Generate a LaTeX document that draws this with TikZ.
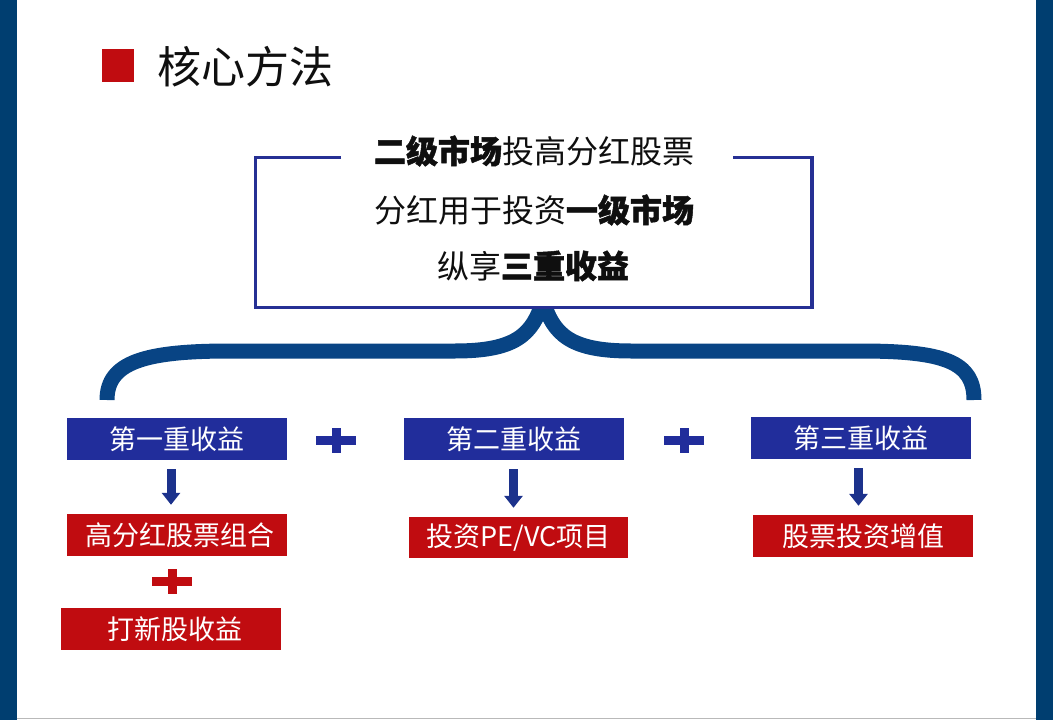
\documentclass[tikz,border=0pt]{standalone}
\usepackage{fontspec}
\setmainfont{Noto Sans CJK SC}[BoldFeatures={FakeBold=1.6}]
\usetikzlibrary{arrows.meta}
\definecolor{sidebar}{RGB}{0,62,112}
\definecolor{bracecol}{RGB}{8,68,132}
\definecolor{boxblue}{RGB}{33,45,155}
\definecolor{framecol}{RGB}{38,48,148}
\definecolor{redbox}{RGB}{192,12,16}
\definecolor{arrowcol}{RGB}{28,50,140}
\definecolor{txt}{RGB}{15,15,15}
\begin{document}
\begin{tikzpicture}[x=1pt,y=-1pt,
  bluebox/.style={fill=boxblue, text=white, minimum width=220pt, minimum height=42pt, inner sep=0pt, font=\fontsize{27}{30}\selectfont},
  redlabel/.style={fill=redbox, text=white, minimum width=220pt, minimum height=42pt, inner sep=0pt, font=\fontsize{27}{30}\selectfont},
  fatarrow/.style={draw=arrowcol, line width=9pt, -{Triangle[width=18pt,length=12pt]}},
  linetext/.style={text=txt, font=\fontsize{32}{36}\selectfont, inner sep=0pt},
  plussign/.pic={\fill (-20,-4.5) rectangle (20,4.5); \fill (-4.5,-12.5) rectangle (4.5,12.5);},
]
\useasboundingbox (0,0) rectangle (1053,720);
% side bars and bottom line
\fill[sidebar] (0,0) rectangle (16.5,720);
\fill[sidebar] (1036,0) rectangle (1053,720);
\draw[gray!55, line width=1.5pt] (16.5,718.5) -- (1036,718.5);
% title
\node[fill=redbox, minimum width=32pt, minimum height=33pt, inner sep=0pt] (sq) at (118,65.5) {};
\node[anchor=west, font=\fontsize{44}{48}\selectfont, text=txt, inner sep=0pt] (title) at (157,67) {核心方法};
% brace
\begin{scope}
\clip (0,309) rectangle (1053,720);
\draw[bracecol, line width=15pt, line join=miter]
  (107,400) .. controls (107,362) and (145,351) .. (230,351) -- (455,351)
  .. controls (515,351) and (533,335) .. (543,300)
  .. controls (553,335) and (571,351) .. (631,351) -- (860,351)
  .. controls (945,351) and (974,362) .. (974,400);
\end{scope}
% frame
\draw[framecol, line width=3.5pt] (341,157.5) -- (255.5,157.5) -- (255.5,307.5) -- (812,307.5) -- (812,157.5) -- (733,157.5);
\node[linetext] (l1) at (534,151) {{\bfseries 二级市场}投高分红股票};
\node[linetext] (l2) at (534,210) {分红用于投资{\bfseries 一级市场}};
\node[linetext] (l3) at (533,266) {纵享{\bfseries 三重收益}};
% blue boxes
\node[bluebox] (b1) at (177,439) {第一重收益};
\node[bluebox] (b2) at (513.5,439) {第二重收益};
\node[bluebox] (b3) at (860.5,438) {第三重收益};
\pic[color=boxblue] at (336,440) {plussign};
\pic[color=boxblue] at (684,440) {plussign};
% red boxes
\node[redlabel] (r1) at (177,535) {\hspace{6pt}高分红股票组合};
\node[redlabel] (r2) at (171,629) {\hspace{8pt}打新股收益};
\node[redlabel, minimum width=219pt, minimum height=41pt] (r3) at (518.5,537.5) {投资PE/VC项目};
\node[redlabel] (r4) at (863,536) {股票投资增值};
\pic[color=redbox] at (172,581) {plussign};
% arrows
\draw[fatarrow] ([xshift=-6pt,yshift=-9pt]b1.south) -- ([xshift=-6pt,yshift=9pt]r1.north);
\draw[fatarrow] ([yshift=-9pt]b2.south) -- ([yshift=9pt]b2.south |- r3.north);
\draw[fatarrow] ([xshift=-2pt,yshift=-9pt]b3.south) -- ([xshift=-2pt,yshift=9pt]b3.south |- r4.north);
\end{tikzpicture}
\end{document}
